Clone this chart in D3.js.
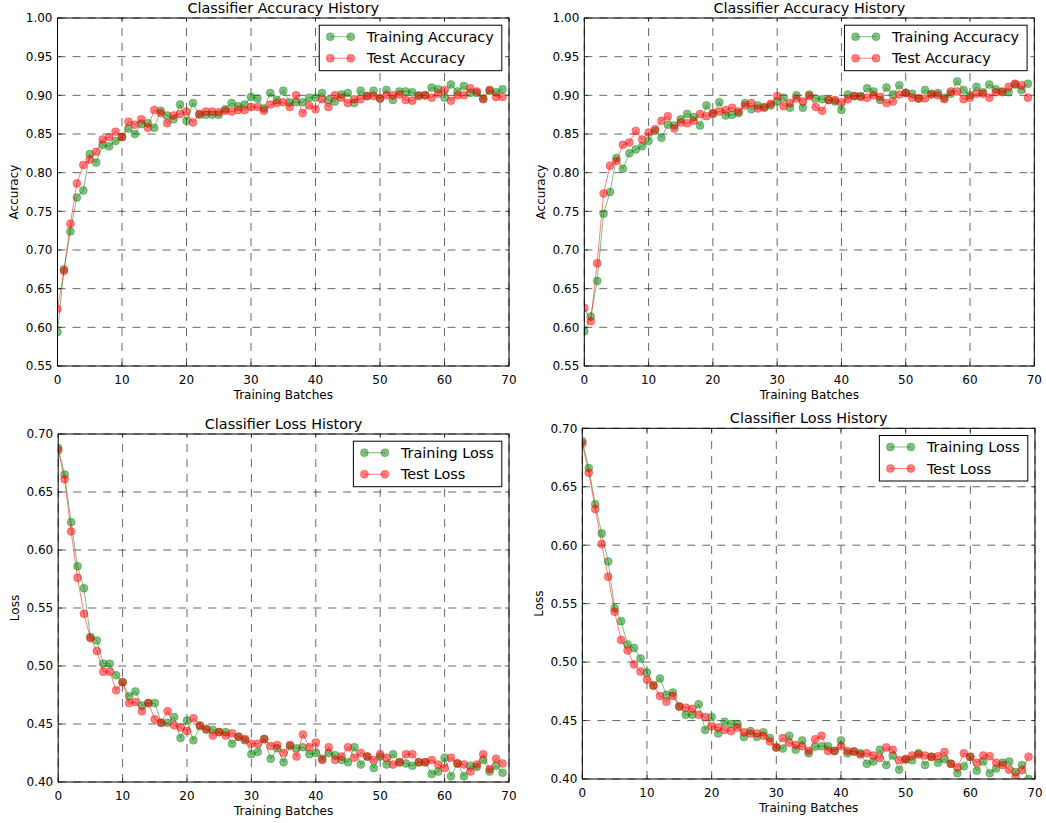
<!DOCTYPE html>
<html><head><meta charset="utf-8">
<script src="https://cdn.jsdelivr.net/npm/d3@7"></script>
<style>
body{margin:0;background:#fff}
svg{display:block}
text{font-family:"DejaVu Sans",sans-serif;fill:#000}
</style>
</head><body>
<svg id="c" width="1046" height="823"></svg>
<script>
// ---------- data ----------
const batches = [0,1,2,3,4,5,6,7,8,9,10,11,12,13,14,15,16,17,18,19,20,21,22,23,24,25,26,27,28,29,30,31,32,33,34,35,36,37,38,39,40,41,42,43,44,45,46,47,48,49,50,51,52,53,54,55,56,57,58,59,60,61,62,63,64,65,66,67,68,69];
const xTicks = [0,10,20,30,40,50,60,70];
const accTicks = [0.55,0.60,0.65,0.70,0.75,0.80,0.85,0.90,0.95,1.00];
const lossTicks = [0.40,0.45,0.50,0.55,0.60,0.65,0.70];

const accTrainA = [0.594,0.675,0.724,0.768,0.777,0.824,0.813,0.836,0.834,0.841,
0.846,0.857,0.850,0.863,0.864,0.858,0.880,0.874,0.869,0.888,
0.867,0.890,0.875,0.875,0.875,0.875,0.882,0.890,0.886,0.888,
0.898,0.896,0.883,0.903,0.894,0.906,0.891,0.891,0.891,0.897,
0.897,0.903,0.894,0.892,0.901,0.903,0.890,0.906,0.899,0.906,
0.896,0.907,0.894,0.905,0.905,0.904,0.900,0.900,0.910,0.908,
0.897,0.914,0.905,0.912,0.903,0.903,0.896,0.906,0.904,0.908];
const accTestA = [0.624,0.673,0.734,0.786,0.810,0.817,0.827,0.843,0.846,0.853,
0.846,0.866,0.862,0.869,0.858,0.881,0.877,0.864,0.874,0.876,
0.879,0.865,0.876,0.879,0.879,0.878,0.880,0.879,0.881,0.881,
0.885,0.885,0.880,0.888,0.890,0.891,0.885,0.900,0.877,0.887,
0.882,0.895,0.885,0.900,0.897,0.890,0.895,0.895,0.899,0.899,
0.896,0.900,0.900,0.901,0.894,0.893,0.899,0.900,0.897,0.902,
0.907,0.893,0.900,0.900,0.909,0.905,0.895,0.907,0.898,0.898];

const accTrainB = [0.595,0.614,0.660,0.747,0.775,0.819,0.805,0.825,0.830,0.834,
0.841,0.854,0.845,0.862,0.861,0.869,0.876,0.872,0.861,0.887,
0.876,0.891,0.874,0.875,0.877,0.890,0.882,0.887,0.884,0.887,
0.892,0.897,0.884,0.900,0.884,0.901,0.896,0.895,0.894,0.892,
0.881,0.901,0.899,0.899,0.909,0.905,0.894,0.910,0.901,0.913,
0.903,0.902,0.896,0.907,0.902,0.903,0.897,0.902,0.918,0.907,
0.900,0.911,0.904,0.914,0.908,0.905,0.904,0.914,0.907,0.915];
const accTestB = [0.625,0.608,0.683,0.773,0.809,0.815,0.836,0.839,0.854,0.843,
0.852,0.856,0.867,0.873,0.857,0.865,0.864,0.867,0.876,0.873,
0.877,0.879,0.881,0.884,0.879,0.887,0.890,0.883,0.885,0.889,
0.899,0.886,0.890,0.896,0.892,0.899,0.885,0.880,0.894,0.894,
0.891,0.895,0.899,0.898,0.897,0.900,0.898,0.890,0.892,0.901,
0.903,0.897,0.896,0.896,0.901,0.900,0.895,0.905,0.905,0.895,
0.897,0.902,0.902,0.897,0.904,0.904,0.911,0.915,0.913,0.897];

const lossTrainA = [0.688,0.665,0.624,0.586,0.567,0.525,0.522,0.502,0.502,0.492,
0.486,0.474,0.478,0.466,0.468,0.468,0.451,0.451,0.456,0.438,
0.453,0.436,0.448,0.445,0.445,0.443,0.443,0.433,0.439,0.436,
0.424,0.426,0.437,0.420,0.429,0.417,0.431,0.429,0.430,0.424,
0.425,0.420,0.425,0.423,0.419,0.417,0.430,0.415,0.422,0.412,
0.422,0.415,0.424,0.417,0.416,0.414,0.417,0.417,0.407,0.409,
0.421,0.405,0.416,0.405,0.414,0.413,0.419,0.409,0.414,0.408];
const lossTestA = [0.686,0.661,0.616,0.576,0.545,0.524,0.513,0.495,0.495,0.479,
0.486,0.468,0.469,0.461,0.468,0.454,0.451,0.461,0.449,0.447,
0.444,0.455,0.449,0.446,0.440,0.443,0.440,0.442,0.439,0.437,
0.433,0.433,0.437,0.431,0.432,0.425,0.432,0.422,0.441,0.430,
0.434,0.419,0.430,0.419,0.422,0.430,0.421,0.425,0.422,0.419,
0.424,0.421,0.415,0.417,0.424,0.424,0.417,0.417,0.419,0.415,
0.412,0.421,0.416,0.415,0.409,0.415,0.424,0.411,0.420,0.416];

const lossTrainB = [0.689,0.666,0.635,0.610,0.586,0.546,0.535,0.515,0.512,0.503,
0.491,0.480,0.486,0.472,0.474,0.462,0.455,0.455,0.464,0.442,
0.453,0.439,0.449,0.447,0.447,0.436,0.441,0.436,0.440,0.435,
0.427,0.426,0.437,0.425,0.433,0.422,0.4275,0.428,0.428,0.424,
0.433,0.422,0.4235,0.422,0.413,0.415,0.425,0.412,0.420,0.408,
0.417,0.416,0.422,0.412,0.419,0.414,0.417,0.413,0.405,0.411,
0.419,0.407,0.415,0.405,0.409,0.414,0.415,0.406,0.412,0.400];
const lossTestB = [0.687,0.662,0.631,0.601,0.573,0.543,0.519,0.510,0.498,0.492,
0.485,0.480,0.471,0.466,0.471,0.462,0.461,0.460,0.455,0.453,
0.445,0.444,0.442,0.441,0.444,0.440,0.439,0.439,0.437,0.432,
0.427,0.435,0.431,0.429,0.428,0.424,0.434,0.437,0.424,0.424,
0.428,0.424,0.4235,0.421,0.422,0.420,0.418,0.427,0.425,0.416,
0.417,0.420,0.421,0.420,0.419,0.4195,0.423,0.413,0.410,0.422,
0.419,0.414,0.420,0.4195,0.414,0.412,0.408,0.402,0.4075,0.419];

const accTitle = "Classifier Accuracy History";
const lossTitle = "Classifier Loss History";
const xLabel = "Training Batches";
const accNames = ["Training Accuracy","Test Accuracy"];
const lossNames = ["Training Loss","Test Loss"];

// ---------- layout ----------
const panels = [
  {box:{l:57.5,r:509,t:18,b:366}, dom:[0.55,1.0], yt:accTicks, title:accTitle, yl:"Accuracy", tr:accTrainA, te:accTestA, names:accNames},
  {box:{l:584.3,r:1034.3,t:18,b:366}, dom:[0.55,1.0], yt:accTicks, title:accTitle, yl:"Accuracy", tr:accTrainB, te:accTestB, names:accNames},
  {box:{l:58.2,r:509,t:434,b:782}, dom:[0.40,0.70], yt:lossTicks, title:lossTitle, yl:"Loss", tr:lossTrainA, te:lossTestA, names:lossNames},
  {box:{l:582.3,r:1035,t:428.3,b:779}, dom:[0.40,0.70], yt:lossTicks, title:lossTitle, yl:"Loss", tr:lossTrainB, te:lossTestB, names:lossNames}
];
const GREEN = "#008000", RED = "#ff0000";
const R = 4;
const svg = d3.select("#c");

panels.forEach((p, i) => {
  const B = p.box;
  const x = d3.scaleLinear().domain([0,70]).range([B.l, B.r]);
  const y = d3.scaleLinear().domain(p.dom).range([B.b, B.t]);
  const g = svg.append("g");
  const cid = "clip" + i;
  g.append("clipPath").attr("id", cid).append("rect")
    .attr("x", B.l).attr("y", B.t).attr("width", B.r - B.l).attr("height", B.b - B.t);

  // grid
  const grid = g.append("g").attr("stroke", "#000").attr("stroke-width", 0.6)
    .attr("stroke-dasharray", "8,7").attr("fill", "none");
  xTicks.forEach(v => grid.append("line").attr("x1", x(v)).attr("x2", x(v)).attr("y1", B.b).attr("y2", B.t));
  p.yt.forEach(v => grid.append("line").attr("y1", y(v)).attr("y2", y(v)).attr("x1", B.l).attr("x2", B.r));

  // data
  const dg = g.append("g").attr("clip-path", `url(#${cid})`);
  const series = [{v:p.tr, c:GREEN}, {v:p.te, c:RED}];
  series.forEach(s => {
    const pts = batches.map((b, k) => [x(b), y(s.v[k])]);
    dg.append("path").attr("d", d3.line()(pts)).attr("fill", "none")
      .attr("stroke", s.c).attr("stroke-opacity", 0.5).attr("stroke-width", 1);
    dg.selectAll(null).data(pts).enter().append("circle")
      .attr("cx", d => d[0]).attr("cy", d => d[1]).attr("r", R)
      .attr("fill", s.c).attr("fill-opacity", 0.5)
      .attr("stroke", s.c).attr("stroke-opacity", 0.5).attr("stroke-width", 0.6);
  });

  // ticks (inward, all four sides)
  const tk = g.append("g").attr("stroke", "#000").attr("stroke-width", 0.6);
  xTicks.forEach(v => {
    tk.append("line").attr("x1", x(v)).attr("x2", x(v)).attr("y1", B.b).attr("y2", B.b - 4);
    tk.append("line").attr("x1", x(v)).attr("x2", x(v)).attr("y1", B.t).attr("y2", B.t + 4);
  });
  p.yt.forEach(v => {
    tk.append("line").attr("y1", y(v)).attr("y2", y(v)).attr("x1", B.l).attr("x2", B.l + 4);
    tk.append("line").attr("y1", y(v)).attr("y2", y(v)).attr("x1", B.r).attr("x2", B.r - 4);
  });

  // frame
  g.append("rect").attr("x", B.l).attr("y", B.t).attr("width", B.r - B.l).attr("height", B.b - B.t)
    .attr("fill", "none").attr("stroke", "#000").attr("stroke-width", 1);

  // tick labels
  const fmt = d3.format(".2f");
  xTicks.forEach(v => g.append("text").attr("x", x(v)).attr("y", B.b + 18)
    .attr("text-anchor", "middle").attr("font-size", 12).text(v));
  p.yt.forEach(v => g.append("text").attr("x", B.l - 5).attr("y", y(v)).attr("dy", "0.36em")
    .attr("text-anchor", "end").attr("font-size", 12).text(fmt(v)));

  // labels
  const cx = (B.l + B.r) / 2, cy = (B.t + B.b) / 2;
  g.append("text").attr("x", cx).attr("y", B.t - 5.5).attr("text-anchor", "middle")
    .attr("font-size", 14.4).text(p.title);
  g.append("text").attr("x", cx).attr("y", B.b + 33).attr("text-anchor", "middle")
    .attr("font-size", 12).text(xLabel);
  g.append("text").attr("transform", `translate(${B.l - 39.5},${cy}) rotate(-90)`)
    .attr("text-anchor", "middle").attr("font-size", 12).text(p.yl);

  // legend
  const lg = g.append("g");
  const box = lg.append("rect").attr("fill", "#fff").attr("stroke", "#000").attr("stroke-width", 1);
  let maxW = 0;
  const rows = [];
  series.forEach((s, k) => {
    const t = lg.append("text").attr("font-size", 14.4).attr("dy", "0.36em").text(p.names[k]);
    maxW = Math.max(maxW, t.node().getComputedTextLength());
    rows.push({t, c:s.c});
  });
  const W = 47.5 + maxW + 8, H = 45.5;
  const L = B.r - 7.2 - W, T = B.t + 7.2;
  box.attr("x", L).attr("y", T).attr("width", W).attr("height", H);
  rows.forEach((r, k) => {
    const ry = T + 11.5 + k * 21.5;
    const x1 = L + 11, x2 = L + 31.5;
    lg.append("line").attr("x1", x1).attr("x2", x2).attr("y1", ry).attr("y2", ry)
      .attr("stroke", r.c).attr("stroke-opacity", 0.5).attr("stroke-width", 1);
    [x1, x2].forEach(xx => lg.append("circle").attr("cx", xx).attr("cy", ry).attr("r", R)
      .attr("fill", r.c).attr("fill-opacity", 0.5)
      .attr("stroke", r.c).attr("stroke-opacity", 0.5).attr("stroke-width", 0.6));
    r.t.attr("x", L + 47.5).attr("y", ry);
  });
});
</script>
</body></html>
